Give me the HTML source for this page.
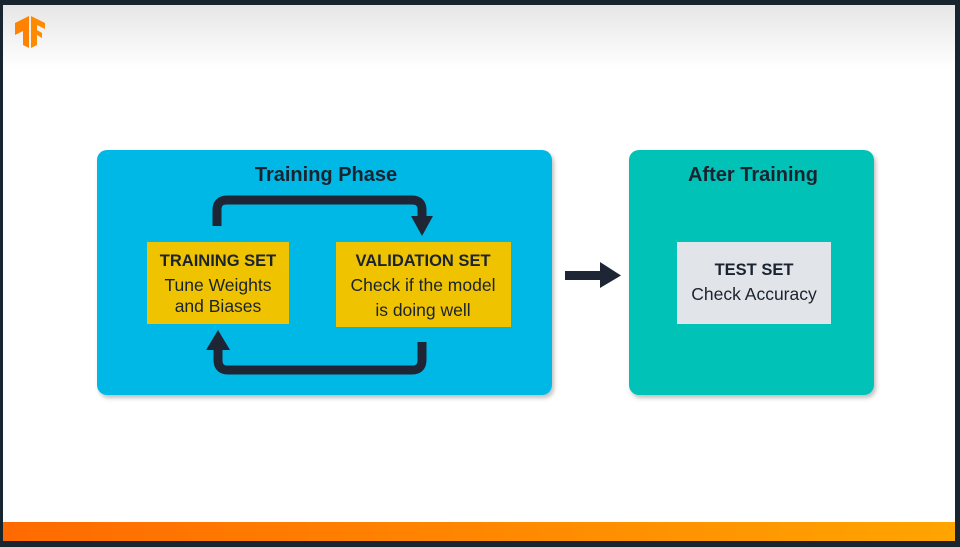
<!DOCTYPE html>
<html><head><style>
body{margin:0;width:960px;height:547px;background:#18252f;overflow:hidden;font-family:"Liberation Sans",sans-serif}
svg{display:block}
</style></head><body>
<svg width="960" height="547" viewBox="0 0 960 547" xmlns="http://www.w3.org/2000/svg">
<defs>
<linearGradient id="tg" x1="0" y1="0" x2="0" y2="1"><stop offset="0" stop-color="#e6e6e6"/><stop offset="0.12" stop-color="#fff"/></linearGradient>
<linearGradient id="og" x1="0" y1="0" x2="1" y2="0"><stop offset="0" stop-color="#ff6a00"/><stop offset="1" stop-color="#ffa400"/></linearGradient>
<filter id="sh" x="-5%" y="-5%" width="115%" height="115%"><feDropShadow dx="2" dy="3" stdDeviation="2" flood-opacity="0.25"/></filter>
</defs>
<rect x="3" y="5" width="952" height="536" fill="url(#tg)"/>
<rect x="3" y="522" width="952" height="19" fill="url(#og)"/>
<path d="M15 23 L29 16 L29 48 L23 45 L23 31 L15 35 Z" fill="#ff8200"/>
<path d="M31 16 L45 23 L45 29 L37 25 L37 30 L42 33 L42 38 L37 35 L37 45 L31 48 Z" fill="#ff8a00"/>
<rect x="97" y="150" width="455" height="245" rx="10" fill="#00b8e6" filter="url(#sh)"/>
<rect x="629" y="150" width="245" height="245" rx="10" fill="#00c2b6" filter="url(#sh)"/>
<g font-family="Liberation Sans, sans-serif" fill="#1a2330" text-anchor="middle">
<text x="326" y="181" font-size="20" font-weight="bold">Training Phase</text>
<text x="753" y="181" font-size="20" font-weight="bold">After Training</text>
</g>
<rect x="147" y="242" width="142" height="82" fill="#f0c300"/>
<rect x="336" y="242" width="175" height="85" fill="#f0c300"/>
<rect x="677" y="242" width="154" height="82" fill="#e1e4e8"/>
<g font-family="Liberation Sans, sans-serif" fill="#1a2330" text-anchor="middle" font-size="17.5">
<text x="218" y="266" font-weight="bold" font-size="16.5">TRAINING SET</text>
<text x="218" y="291">Tune Weights</text>
<text x="218" y="312">and Biases</text>
<text x="423" y="266" font-weight="bold" font-size="16.5">VALIDATION SET</text>
<text x="423" y="291">Check if the model</text>
<text x="423" y="316">is doing well</text>
<text x="754" y="275" font-weight="bold" font-size="16.5">TEST SET</text>
<text x="754" y="300">Check Accuracy</text>
</g>
<g fill="none" stroke="#1e2535" stroke-width="9">
<path d="M217 226 V210 Q217 200 227 200 H412 Q422 200 422 210 V218"/>
<path d="M422 342 V360 Q422 370 412 370 H228 Q218 370 218 360 V348"/>
</g>
<g fill="#1e2535">
<polygon points="411,216 433,216 422,236"/>
<polygon points="206,350 230,350 218,330"/>
<rect x="565" y="271" width="36" height="9"/>
<polygon points="600,262 621,275.5 600,288"/>
</g>
</svg>
</body></html>
